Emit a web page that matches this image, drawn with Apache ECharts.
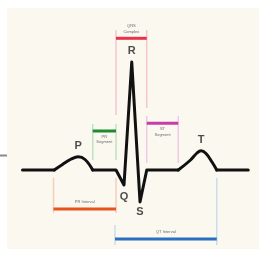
<!DOCTYPE html>
<html>
<head>
<meta charset="utf-8">
<script src="https://cdn.jsdelivr.net/npm/echarts@6/dist/echarts.min.js"></script>
<style>
  html, body { margin: 0; padding: 0; background: #fff; }
  #main { width: 260px; height: 259px; }
</style>
</head>
<body>
<div id="main"></div>
<script>
// ECG trace, x = time (ms), y = voltage (mV)
const leadIn = [[50, 0], [177, 0]];
const pWave = [[177, 0], [210, 0.055], [245, 0.11], [273, 0.133], [300, 0.105], [331, 0]];
const qrsTrace = [[331, 0], [424, 0], [456, -0.15], [487, 1.08], [520, -0.32], [547, 0], [673, 0]];
const tWave = [[673, 0], [720, 0.095], [748, 0.17], [764, 0.193], [784, 0.165], [808, 0.08], [827, 0]];
const leadOut = [[827, 0], [953, 0]];

// intervals (ms)
const intervalNames = ['PR Interval', 'PR\nSegment', 'QRS\nComplex', 'ST\nSegment', 'QT Interval'];
const intervalStart = [174, 331, 424, 547, 420];
const intervalEnd = [424, 424, 547, 673, 827];

const waveNames = ['P', 'Q', 'R', 'S', 'T'];

// where the brackets sit (mV)
const bracketLayout = [
  { bar: -0.39, l: [-0.08, -0.43], r: [-0.08, -0.43], text: 'above', color: '#e8531e', pale: '#f7cdbb' },
  { bar: 0.39, l: [0.46, 0.10], r: [0.46, 0.10], text: 'below', color: '#1f8a30', pale: '#c2e0c4' },
  { bar: 1.317, l: [1.40, 0.55], r: [1.40, 0.62], text: 'above', color: '#e8334a', pale: '#f7c6cc' },
  { bar: 0.467, l: [0.54, 0.07], r: [0.54, 0.07], text: 'below', color: '#c83ca8', pale: '#efcbe6' },
  { bar: -0.69, l: [-0.55, -0.75], r: [-0.08, -0.75], text: 'above', color: '#2a6fc0', pale: '#cbdcec' }
];

const wavePeaks = [pWave[3], qrsTrace[2], qrsTrace[3], qrsTrace[4], tWave[3]];
const waveOffsets = [-11, 12, -11, 10, -11];

const chart = echarts.init(document.getElementById('main'));

const traceStyle = { color: '#111', width: 3, cap: 'round', join: 'round' };
function traceSeries(data, smooth) {
  return {
    type: 'line', data: data, smooth: smooth, symbol: 'none', silent: true,
    lineStyle: traceStyle, z: 5
  };
}

const option = {
  animation: false,
  backgroundColor: '#ffffff',
  graphic: [
    { type: 'rect', shape: { x: 7, y: 8, width: 252, height: 241 }, style: { fill: '#fbf8f0' }, z: -10 },
    { type: 'line', shape: { x1: 0, y1: 155.5, x2: 7, y2: 155.5 }, style: { stroke: '#8a8a8a', lineWidth: 2 }, z: -10 }
  ],
  grid: { left: 10, right: 10, top: 10, bottom: 9 },
  xAxis: { type: 'value', min: 0, max: 960, show: false },
  yAxis: { type: 'value', min: -0.8, max: 1.6, show: false },
  series: [
    {
      type: 'custom',
      silent: true,
      z: 2,
      data: intervalNames.map((n, i) => [intervalStart[i], intervalEnd[i], i]),
      renderItem: function (params, api) {
        const i = api.value(2);
        const L = bracketLayout[i];
        const x1 = api.coord([api.value(0), 0])[0];
        const x2 = api.coord([api.value(1), 0])[0];
        const yb = api.coord([0, L.bar])[1];
        const y = v => api.coord([0, v])[1];
        const children = [
          { type: 'line', shape: { x1: x1, y1: y(L.l[0]), x2: x1, y2: y(L.l[1]) }, style: { stroke: L.pale, lineWidth: 1.5 } },
          { type: 'line', shape: { x1: x2, y1: y(L.r[0]), x2: x2, y2: y(L.r[1]) }, style: { stroke: L.pale, lineWidth: 1.5 } },
          { type: 'line', shape: { x1: x1, y1: yb, x2: x2, y2: yb }, style: { stroke: L.color, lineWidth: 3 } },
          {
            type: 'text',
            style: {
              text: intervalNames[i], x: (x1 + x2) / 2,
              y: L.text === 'above' ? yb - 4 : yb + 3,
              align: 'center', verticalAlign: L.text === 'above' ? 'bottom' : 'top',
              fontSize: 4, lineHeight: 5.5, fill: '#6a6a6a', fontFamily: 'Liberation Sans'
            }
          }
        ];
        return { type: 'group', children: children };
      }
    },
    traceSeries(leadIn, false),
    traceSeries(pWave, 0.4),
    traceSeries(qrsTrace, false),
    traceSeries(tWave, 0.4),
    traceSeries(leadOut, false),
    {
      type: 'scatter',
      symbolSize: 1,
      itemStyle: { color: 'rgba(0,0,0,0)' },
      silent: true,
      z: 6,
      data: waveNames.map((n, i) => ({
        value: wavePeaks[i],
        label: {
          show: true, formatter: n, position: 'inside', offset: [0, waveOffsets[i]],
          fontSize: 11, fontWeight: 'bold', color: '#222', fontFamily: 'Liberation Sans'
        }
      }))
    }
  ]
};

chart.setOption(option);
</script>
</body>
</html>
